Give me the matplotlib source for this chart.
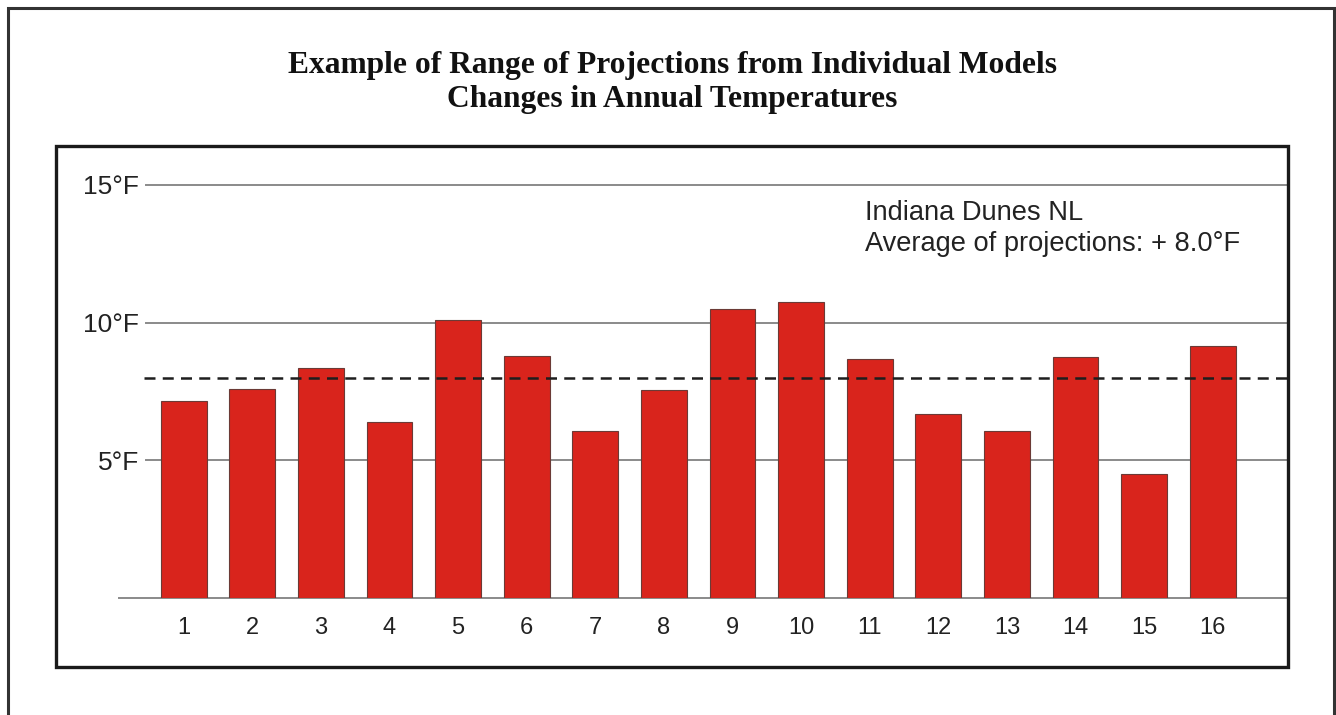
import matplotlib
matplotlib.use("Agg")
import matplotlib.pyplot as plt
from matplotlib.patches import Rectangle

# ---- data ----
models = [str(i) for i in range(1, 17)]
changes = [7.17, 7.60, 8.34, 6.41, 10.08, 8.79, 6.06, 7.56,
           10.48, 10.74, 8.68, 6.69, 6.08, 8.76, 4.52, 9.14]
average = 8.0
y_ticks = [5, 10, 15]
y_tick_labels = ["5°F", "10°F", "15°F"]
title_lines = ["Example of Range of Projections from Individual Models",
               "Changes in Annual Temperatures"]
note_lines = ["Indiana Dunes NL", "Average of projections: + 8.0°F"]

W, H = 1336, 715
fig = plt.figure(figsize=(W / 100, H / 100), dpi=100)
fig.patch.set_facecolor("white")

def fx(px):
    return px / W

def fy(py):
    return 1 - py / H

# outer border (bottom edge runs past the canvas)
fig.add_artist(Rectangle((fx(8), fy(725)), fx(1334) - fx(8), fy(8) - fy(725),
                         transform=fig.transFigure, fill=False,
                         edgecolor="#333333", linewidth=2.2, clip_on=False))
# inner box
fig.add_artist(Rectangle((fx(56), fy(667)), fx(1288) - fx(56), fy(146) - fy(667),
                         transform=fig.transFigure, fill=False,
                         edgecolor="#1a1a1a", linewidth=2.4))

# title
fig.text(fx(672), fy(65), title_lines[0], ha="center", va="center",
         family="Liberation Serif", fontweight="bold", fontsize=22.7, color="#111111")
fig.text(fx(672), fy(100), title_lines[1], ha="center", va="center",
         family="Liberation Serif", fontweight="bold", fontsize=22.7, color="#111111")

ax_left, ax_right = 119, 1287
ax_top, ax_bot = 185, 598
ax = fig.add_axes([fx(ax_left), fy(ax_bot), fx(ax_right) - fx(ax_left), fy(ax_top) - fy(ax_bot)])
ax.set_facecolor("none")

x = list(range(1, 17))
ax.bar(x, changes, width=0.67, color="#d9241c", edgecolor="#6b3a36",
       linewidth=0.8, zorder=3)

ax.set_xlim(0.057, 17.083)
ax.set_ylim(0, 15)

grid_start = (146 - ax_left) / (ax_right - ax_left)
for yv in y_ticks:
    ax.axhline(yv, xmin=grid_start, xmax=1, color="#8a8a8a", linewidth=1.4, zorder=1,
               clip_on=False)

ax.axhline(average, xmin=(144 - ax_left) / (ax_right - ax_left), xmax=1,
           color="#1e1e1e", linewidth=1.8, linestyle=(0, (4.4, 2.9)), zorder=4)

for s in ["top", "right", "left"]:
    ax.spines[s].set_visible(False)
ax.spines["bottom"].set_color("#8a8a8a")
ax.spines["bottom"].set_linewidth(1.4)

ax.set_xticks(x)
ax.set_xticklabels(models, family="Liberation Sans", fontsize=17, color="#222222")
ax.tick_params(axis="x", length=0, pad=14)
ax.set_yticks(y_ticks)
ax.set_yticklabels(y_tick_labels, family="Liberation Sans", fontsize=19, color="#222222")
ax.tick_params(axis="y", length=0, pad=-14.5)
for lab in ax.get_yticklabels():
    lab.set_horizontalalignment("right")

fig.text(fx(865), fy(213), note_lines[0], ha="left", va="center",
         family="Liberation Sans", fontsize=19.6, color="#222222")
fig.text(fx(865), fy(244), note_lines[1], ha="left", va="center",
         family="Liberation Sans", fontsize=19.6, color="#222222")

fig.savefig("out.png", dpi=100, facecolor="white")
